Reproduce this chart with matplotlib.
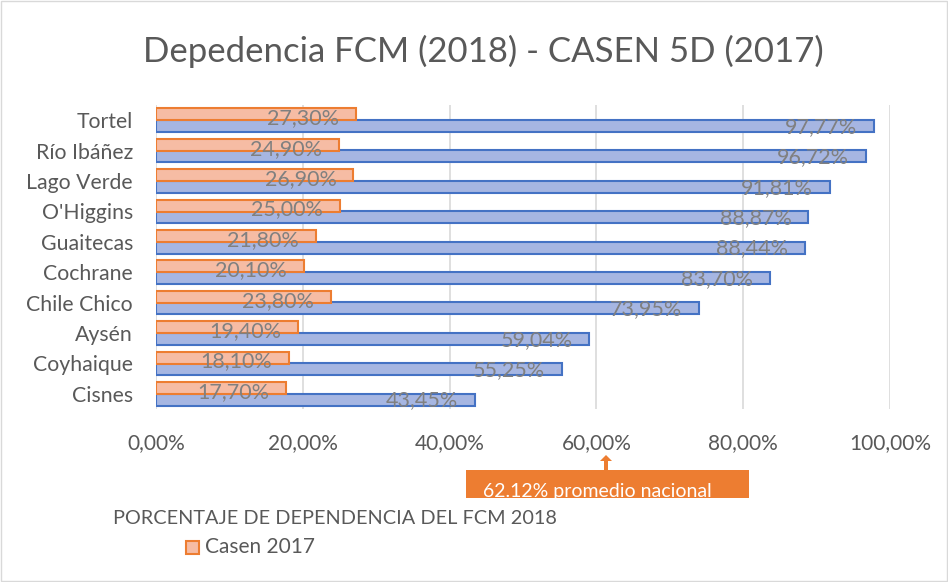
import numpy as np
import matplotlib.pyplot as plt
from matplotlib.patches import Rectangle, FancyArrow

# Data
comunas = ['Tortel', 'Río Ibáñez', 'Lago Verde', "O'Higgins", 'Guaitecas',
           'Cochrane', 'Chile Chico', 'Aysén', 'Coyhaique', 'Cisnes']
fcm_2018 = [97.77, 96.72, 91.81, 88.87, 88.44, 83.70, 73.95, 59.04, 55.25, 43.45]
casen_2017 = [27.30, 24.90, 26.90, 25.00, 21.80, 20.10, 23.80, 19.40, 18.10, 17.70]
promedio_nacional = 62.12
xticks = [0, 20, 40, 60, 80, 100]

plt.rcParams['font.family'] = ['Lato', 'DejaVu Sans']
grey = '#808080'

fig = plt.figure(figsize=(9.48, 5.82), dpi=100)
ax = fig.add_axes([156/948, 1-409/582, 734/948, 304/582])

y = np.arange(len(comunas))
h = 0.39
# blue series below, orange above
ax.barh(y + 0.19, fcm_2018, height=h, color='#A6B6E2', edgecolor='#4472C4', linewidth=1.5, zorder=2)
ax.barh(y - 0.19, casen_2017, height=h, color='#F6BCA4', edgecolor='#ED7D31', linewidth=1.5, zorder=3)

def fmt(v):
    return f'{v:.2f}%'.replace('.', ',')

for yi, v in zip(y, fcm_2018):
    ax.text(v - 2.3, yi + 0.22, fmt(v), ha='right', va='center', fontsize=15.5, color=grey, zorder=4)
for yi, v in zip(y, casen_2017):
    ax.text(v - 2.3, yi - 0.06, fmt(v), ha='right', va='center', fontsize=15.5, color=grey, zorder=4)

ax.set_xlim(0, 100)
ax.set_ylim(len(comunas) - 0.5, -0.5)
ax.set_xticks(xticks)
ax.set_xticklabels([fmt(t) for t in xticks], fontsize=15, color='#595959')
ax.set_yticks(y)
ax.set_yticklabels(comunas, fontsize=15.3, color='#595959')
ax.tick_params(axis='both', length=0)
ax.tick_params(axis='x', pad=17)
ax.tick_params(axis='y', pad=16.5)
ax.grid(axis='x', color='#D9D9D9', linewidth=1.2, zorder=0)
ax.set_axisbelow(True)
for s in ax.spines.values():
    s.set_visible(False)

fig.text(483/948, 1-51/582, 'Depedencia FCM (2018) - CASEN 5D (2017)',
         ha='center', va='center', fontsize=25, color='#595959')

# national average callout
box = Rectangle((466/948, 1-498/582), 283/948, 28/582, transform=fig.transFigure,
                facecolor='#ED7D31', edgecolor='none')
fig.patches.append(box)
arr = FancyArrow(606/948, 1-470/582, 0, 15/582, width=4/948, head_width=12/948,
                 head_length=6/582, length_includes_head=True, transform=fig.transFigure,
                 facecolor='#ED7D31', edgecolor='none')
fig.patches.append(arr)
t = fig.text(483/948, 1-491/582, f'{promedio_nacional:.2f}% promedio nacional',
             ha='left', va='center', fontsize=14, color='white')
t.set_clip_path(box)

# legend
fig.text(113/948, 1-518/582, 'PORCENTAJE DE DEPENDENCIA DEL FCM 2018',
         ha='left', va='center', fontsize=14.3, color='#595959')
leg = Rectangle((186/948, 1-554/582), 13/948, 13/582, transform=fig.transFigure,
                facecolor='#F6BCA4', edgecolor='#ED7D31', linewidth=1.5)
fig.patches.append(leg)
fig.text(205/948, 1-547/582, 'Casen 2017', ha='left', va='center', fontsize=15, color='#595959')

border = Rectangle((1/948, 1/582), 946/948, 580/582, transform=fig.transFigure,
                   facecolor='none', edgecolor='#D9D9D9', linewidth=1)
fig.patches.append(border)

fig.savefig('out.png', dpi=100)
